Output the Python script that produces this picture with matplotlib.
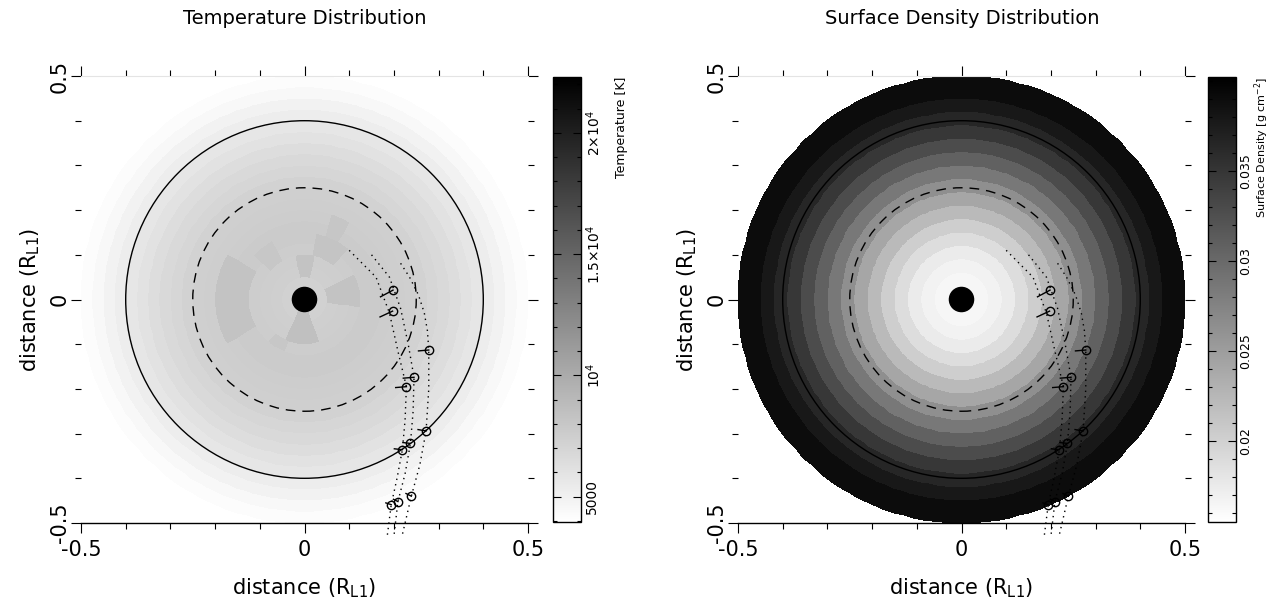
import numpy as np
import matplotlib
matplotlib.use("Agg")
import matplotlib.pyplot as plt
from matplotlib.patches import Circle
from matplotlib.ticker import MultipleLocator, FixedLocator

# ---- temperature map: ring edges (R_L1) and ring temperatures (K)
t_edges = [0.027, 0.05, 0.075, 0.1, 0.125, 0.15, 0.175, 0.2, 0.225, 0.25,
           0.275, 0.3, 0.325, 0.35, 0.375, 0.4, 0.425, 0.45, 0.475, 0.5]
t_ring = [7300, 7400, 7500, 7600, 7700, 7700, 7600, 7500, 7400, 7200,
          6900, 6700, 6400, 6100, 5800, 5300, 4900, 4500, 4200]
# darker patches: (r_in, r_out, theta_start, theta_end [deg], T)
t_patch = [(0.027, 0.1, 245, 290, 8500), (0.04, 0.1, 78, 102, 8300),
           (0.06, 0.13, -8, 28, 8300), (0.12, 0.19, 150, 210, 8300),
           (0.1, 0.15, 50, 80, 8200), (0.15, 0.2, 60, 72, 8100),
           (0.1, 0.15, 120, 140, 8000), (0.1, 0.13, 230, 250, 8000)]

# ---- surface density map
s_edges = [0.027, 0.06, 0.09, 0.12, 0.15, 0.18, 0.21, 0.24, 0.27, 0.3,
           0.33, 0.36, 0.39, 0.42, 0.45, 0.5]
s_ring = [0.0164, 0.0168, 0.0175, 0.0188, 0.0203, 0.0222, 0.0241, 0.0264,
          0.0286, 0.0308, 0.0328, 0.0348, 0.0365, 0.0378, 0.039]

# ---- spot positions and short vectors
mark_x = [0.198, 0.197, 0.278, 0.245, 0.228, 0.272, 0.237, 0.219, 0.239, 0.209, 0.194]
mark_y = [0.021, -0.026, -0.113, -0.174, -0.195, -0.294, -0.322, -0.336, -0.440, -0.452, -0.459]
vec_dx = [-0.028, -0.028, -0.023, -0.024, -0.024, -0.018, -0.017, -0.018, -0.012, -0.010, -0.012]
vec_dy = [-0.015, -0.013, -0.002, -0.002, -0.002, 0.003, 0.002, 0.002, 0.006, 0.005, 0.004]

# ---- dotted tracks
track1_x = [0.215, 0.235, 0.255, 0.268, 0.275, 0.278, 0.278, 0.272, 0.258, 0.239, 0.225, 0.218]
track1_y = [0.081, 0.05, 0.01, -0.03, -0.07, -0.113, -0.2, -0.294, -0.37, -0.44, -0.5, -0.53]
track2_x = [0.15, 0.19, 0.215, 0.232, 0.245, 0.243, 0.237, 0.225, 0.209, 0.2]
track2_y = [0.1, 0.05, -0.02, -0.1, -0.174, -0.25, -0.322, -0.39, -0.452, -0.53]
track3_x = [0.1, 0.16, 0.19, 0.21, 0.228, 0.225, 0.219, 0.207, 0.194, 0.185]
track3_y = [0.11, 0.05, -0.03, -0.12, -0.195, -0.27, -0.336, -0.4, -0.459, -0.53]

T_MIN, T_MAX = 3950, 22300
S_MIN, S_MAX = 0.0155, 0.0402


def polar_grid(edges, ring_vals, patches=()):
    th = np.linspace(0, 2 * np.pi, 145)
    thc = np.degrees(0.5 * (th[1:] + th[:-1]))
    r = np.array(edges)
    rc = 0.5 * (r[1:] + r[:-1])
    vals = np.repeat(np.array(ring_vals, float)[:, None], len(thc), axis=1)
    for r0, r1, a0, a1, v in patches:
        rm = (rc >= r0) & (rc <= r1)
        a = (thc - a0) % 360
        am = a <= (a1 - a0) % 360
        vals[np.ix_(rm, am)] = v
    R, TH = np.meshgrid(r, th, indexing="ij")
    return R * np.cos(TH), R * np.sin(TH), vals


def decorate(ax):
    ax.set_xlim(-0.5, 0.5)
    ax.set_ylim(-0.5, 0.5)
    ax.set_aspect("equal")
    for s in ["left", "right"]:
        ax.spines[s].set_visible(False)
    ax.spines["top"].set_color("#e4e4e4")
    ax.spines["bottom"].set_linewidth(1.0)
    ax.set_xticks([-0.5, 0, 0.5])
    ax.set_yticks([-0.5, 0, 0.5])
    ax.set_xticklabels(["-0.5", "0", "0.5"], fontsize=15)
    ax.set_yticklabels(["-0.5", "0", "0.5"], fontsize=15, rotation=90, va="center")
    ax.xaxis.set_minor_locator(MultipleLocator(0.1))
    ax.yaxis.set_minor_locator(MultipleLocator(0.1))
    ax.tick_params(which="both", direction="out", top=True, right=True, width=0.8)
    ax.tick_params(which="major", length=7)
    ax.tick_params(axis="x", which="major", pad=5)
    ax.tick_params(axis="y", which="major", pad=1)
    ax.tick_params(which="minor", length=4)
    ax.set_xlabel(r"distance (R$_{\mathrm{L1}}$)", fontsize=15, labelpad=12)
    ax.set_ylabel(r"distance (R$_{\mathrm{L1}}$)", fontsize=15, labelpad=6)
    ax.add_patch(Circle((0, 0), 0.4, fill=False, lw=1.0, color="k", zorder=3))
    ax.add_patch(Circle((0, 0), 0.25, fill=False, lw=1.0, color="k",
                        linestyle=(0, (7, 5)), zorder=3))
    ax.add_patch(Circle((0, 0), 0.027, color="k", zorder=3))
    for tx, ty in [(track1_x, track1_y), (track2_x, track2_y), (track3_x, track3_y)]:
        ax.plot(tx, ty, ls=(0, (1, 3)), color="k", lw=1.0, clip_on=False, zorder=4)
    for x, y, dx, dy in zip(mark_x, mark_y, vec_dx, vec_dy):
        ax.plot([x, x + dx], [y, y + dy], color="k", lw=1.0, zorder=5)
    ax.plot(mark_x, mark_y, "o", mfc="none", mec="k", ms=6, mew=1.0, zorder=5)


def colorbar(fig, mesh, cax, ticks, labels, minor, label, lab_x, fs):
    cb = fig.colorbar(mesh, cax=cax)
    cb.outline.set_linewidth(1.0)
    cax.yaxis.set_major_locator(FixedLocator(ticks))
    cax.yaxis.set_minor_locator(MultipleLocator(minor))
    cax.set_yticklabels(labels, rotation=90, va="center", fontsize=fs)
    cax.tick_params(which="both", direction="in", left=True, right=True, width=0.8)
    cax.tick_params(which="major", length=6, pad=2.5)
    cax.tick_params(which="minor", length=3)
    cax.text(lab_x, 1.0, label, rotation=90, ha="center", va="top",
             transform=cax.transAxes, fontsize=fs - 1)


fig = plt.figure(figsize=(12.71, 6.08), dpi=100)
W, H = 1271, 608
ax1 = fig.add_axes([81 / W, 1 - 523 / H, 447 / W, 447 / H])
cax1 = fig.add_axes([553 / W, 1 - 522 / H, 28 / W, 445 / H])
ax2 = fig.add_axes([738 / W, 1 - 523 / H, 447 / W, 447 / H])
cax2 = fig.add_axes([1208 / W, 1 - 522 / H, 28 / W, 445 / H])

X, Y, V = polar_grid(t_edges, t_ring, t_patch)
m1 = ax1.pcolormesh(X, Y, V, cmap="gray_r", vmin=T_MIN, vmax=T_MAX,
                    shading="flat", linewidth=0, rasterized=True)
decorate(ax1)
colorbar(fig, m1, cax1, [5000, 10000, 15000, 20000],
         ["5000", r"10$^4$", r"1.5$\times$10$^4$", r"2$\times$10$^4$"], 1000,
         "Temperature [K]", 2.45, 10)

X, Y, V = polar_grid(s_edges, s_ring)
m2 = ax2.pcolormesh(X, Y, V, cmap="gray_r", vmin=S_MIN, vmax=S_MAX,
                    shading="flat", linewidth=0, rasterized=True)
decorate(ax2)
colorbar(fig, m2, cax2, [0.02, 0.025, 0.03, 0.035],
         ["0.02", "0.025", "0.03", "0.035"], 0.001,
         r"Surface Density [g cm$^{-2}$]", 1.93, 9)

fig.text(305 / W, 1 - 18 / H, "Temperature Distribution", ha="center", va="center", fontsize=14)
fig.text(962 / W, 1 - 18 / H, "Surface Density Distribution", ha="center", va="center", fontsize=14)

fig.savefig("out.png", dpi=100)
